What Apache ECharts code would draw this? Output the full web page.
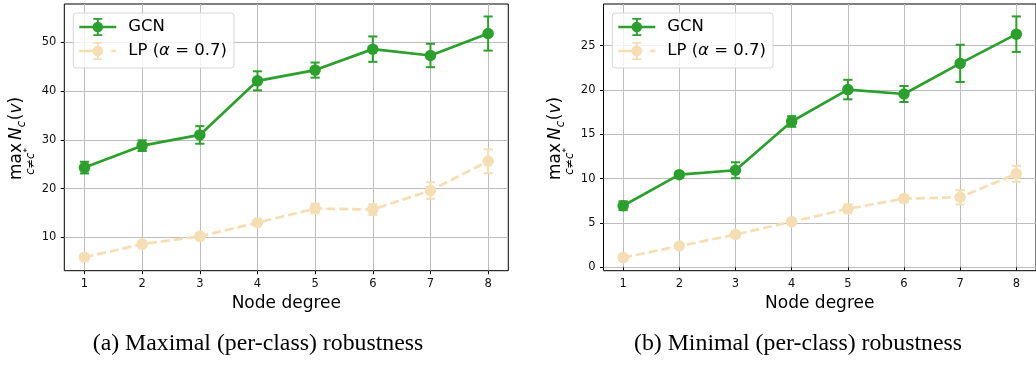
<!DOCTYPE html>
<html>
<head>
<meta charset="utf-8">
<script src="https://cdn.jsdelivr.net/npm/echarts@6/dist/echarts.min.js"></script>
<style>
  html, body { margin: 0; padding: 0; background: #fff; }
  #chart { width: 1036px; height: 366px; }
</style>
</head>
<body>
<div id="chart"></div>
<script>
// Node degrees on the x axis (shared by both panels)
const degrees = [1, 2, 3, 4, 5, 6, 7, 8];

// (a) maximal per-class robustness: mean and standard error
const gcnMaxMean = [24.3, 28.8, 31.0, 42.1, 44.3, 48.6, 47.3, 51.8];
const gcnMaxErr  = [1.2, 1.1, 1.8, 1.95, 1.55, 2.6, 2.4, 3.5];
const lpMaxMean  = [5.9, 8.6, 10.2, 13.0, 15.9, 15.7, 19.6, 25.6];
const lpMaxErr   = [0.4, 0.5, 0.5, 0.5, 1.0, 1.1, 1.7, 2.45];

// (b) minimal per-class robustness: mean and standard error
const gcnMinMean = [6.95, 10.45, 10.95, 16.45, 20.05, 19.55, 23.0, 26.3];
const gcnMinErr  = [0.5, 0.3, 0.9, 0.6, 1.1, 0.9, 2.1, 2.0];
const lpMinMean  = [1.1, 2.4, 3.7, 5.15, 6.6, 7.75, 7.9, 10.55];
const lpMinErr   = [0.3, 0.3, 0.3, 0.3, 0.5, 0.4, 0.8, 0.9];

// Tick labels
const maxTicks = [10, 20, 30, 40, 50];
const minTicks = [0, 5, 10, 15, 20, 25];

const captions = ['(a) Maximal (per-class) robustness', '(b) Minimal (per-class) robustness'];
const xName = 'Node degree';

const GREEN = '#2ca02c';
const WHEAT = '#f5deb3';
const TICK_FONT = 11.5;

const chart = echarts.init(document.getElementById('chart'), null, { renderer: 'canvas' });

// axis ranges padded like matplotlib's default 5% margins
const xRange = [0.65, 8.35];
const yRangeMax = [3.15, 57.86];
const yRangeMin = [-0.38, 29.7];

const grids = [
  { left: 64.3, top: 4, width: 444, height: 266.7 },
  { left: 603.5, top: 4, width: 443.3, height: 266.7 }
];

function xAxisFor(idx) {
  return {
    type: 'value', gridIndex: idx, min: xRange[0], max: xRange[1],
    name: xName, nameLocation: 'middle', nameGap: 22,
    nameTextStyle: { fontFamily: 'DejaVu Sans', fontSize: 17, color: '#000' },
    axisLine: { show: false },
    axisTick: { show: true, length: 3.5, customValues: degrees, lineStyle: { color: '#000', width: 1 } },
    axisLabel: { customValues: degrees, margin: 7, fontFamily: 'DejaVu Sans', fontSize: TICK_FONT, color: '#111' },
    splitLine: { show: true, lineStyle: { color: '#bdbdbd', width: 1 } }
  };
}
function yAxisFor(idx, range, ticks) {
  return {
    type: 'value', gridIndex: idx, min: range[0], max: range[1],
    axisLine: { show: false },
    axisTick: { show: true, length: 3.5, customValues: ticks, lineStyle: { color: '#000', width: 1 } },
    axisLabel: { customValues: ticks, margin: 8, fontFamily: 'DejaVu Sans', fontSize: TICK_FONT, color: '#111' },
    splitLine: { show: true, lineStyle: { color: '#bdbdbd', width: 1 } }
  };
}

function lineSeries(name, idx, means, color, dashed) {
  return {
    name: name, type: 'line', xAxisIndex: idx, yAxisIndex: idx,
    data: degrees.map((d, i) => [d, means[i]]),
    symbol: 'circle', symbolSize: 11.5, showSymbol: true,
    itemStyle: { color: color },
    lineStyle: { color: color, width: 2.7, type: dashed ? [9, 4] : 'solid' },
    z: 3, silent: true
  };
}
function errorSeries(name, idx, means, errs, color) {
  return {
    name: name, type: 'custom', xAxisIndex: idx, yAxisIndex: idx,
    itemStyle: { color: color },
    data: degrees.map((d, i) => [d, means[i] - errs[i], means[i] + errs[i]]),
    encode: { x: 0, y: [1, 2] },
    z: 2, silent: true,
    renderItem: function (params, api) {
      const x = api.value(0);
      const lo = api.coord([x, api.value(1)]);
      const hi = api.coord([x, api.value(2)]);
      const half = 4.6;
      const style = { stroke: color, lineWidth: 2 };
      return {
        type: 'group',
        children: [
          { type: 'line', shape: { x1: lo[0], y1: lo[1], x2: hi[0], y2: hi[1] }, style: style },
          { type: 'line', shape: { x1: lo[0] - half, y1: lo[1], x2: lo[0] + half, y2: lo[1] }, style: style },
          { type: 'line', shape: { x1: hi[0] - half, y1: hi[1], x2: hi[0] + half, y2: hi[1] }, style: style }
        ]
      };
    }
  };
}

// legend glyphs: line segment, error bar with caps and a round marker
const circlePath = 'M13.2,9A5.3,5.3 0 1 1 23.8,9A5.3,5.3 0 1 1 13.2,9Z';
const barPath = 'M17.5,0H19.5V18H17.5Z M14,0H23V1.8H14Z M14,16.2H23V18H14Z';
const gcnIcon = 'path://M0,7.75H37V10.25H0Z ' + barPath + ' ' + circlePath;
const lpIcon = 'path://M0,7.75H14V10.25H0Z M32,7.75H37V10.25H32Z ' + barPath + ' ' + circlePath;

function legendFor(left) {
  return {
    orient: 'vertical', left: left, top: 13,
    padding: [5, 7, 8, 6], itemGap: 6, itemWidth: 37, itemHeight: 18,
    backgroundColor: 'rgba(255,255,255,0.8)', borderColor: '#d6d6d6', borderWidth: 1, borderRadius: 3,
    selectedMode: false,
    data: [{ name: 'GCN', icon: gcnIcon }, { name: 'LP', icon: lpIcon }],
    formatter: function (name) {
      return name === 'LP' ? '{n|LP (}{i|α}{n| = 0.7)}' : '{n|' + name + '}';
    },
    textStyle: {
      fontFamily: 'DejaVu Sans', fontSize: 16.5, color: '#000', lineHeight: 18, padding: [0, 0, 0, 7],
      rich: {
        n: { fontFamily: 'DejaVu Sans', fontSize: 16.5, color: '#000', lineHeight: 18 },
        i: { fontFamily: 'DejaVu Sans', fontStyle: 'italic', fontSize: 16.5, color: '#000', lineHeight: 18 }
      }
    }
  };
}

// y-axis title: max over c != c* of N_c(v), set as rotated math-like text
const measureCtx = document.createElement('canvas').getContext('2d');
function textWidth(str, font) { measureCtx.font = font; return measureCtx.measureText(str).width; }

function yTitle(baseX, baseY) {
  const F = 17, S = 11.5;
  const fam = 'DejaVu Sans';
  const kids = [];
  function put(str, u, v, size, italic) {
    kids.push({
      type: 'text', x: u, y: v - size * 0.346,
      style: {
        text: str, fontFamily: fam, fontSize: size, fontStyle: italic ? 'italic' : 'normal',
        fill: '#000', align: 'left', verticalAlign: 'middle'
      }
    });
    return textWidth(str, (italic ? 'italic ' : '') + size + 'px "' + fam + '"');
  }
  let u = 0;
  const wMax = put('max', u, 0, F, false);
  u += wMax + F * 0.17;
  u += put('N', u, 0, F, true);
  u += put('c', u, F * 0.22, S, true);
  u += F * 0.05;
  u += put('(', u, 0, F, false);
  u += put('v', u, 0, F, true);
  put(')', u, 0, F, false);
  // limits below the operator
  const parts = [['c', true, S, 0], ['≠', false, S, 0], ['c', true, S, 0], ['*', false, 9, -4]];
  let total = 0;
  parts.forEach(p => { total += textWidth(p[0], (p[1] ? 'italic ' : '') + p[2] + 'px "' + fam + '"'); });
  let su = (wMax - total) / 2;
  parts.forEach(p => { su += put(p[0], su, 12.5 + p[3], p[2], p[1]); });
  return { type: 'group', x: baseX, y: baseY, rotation: Math.PI / 2, children: kids, silent: true };
}

const option = {
  animation: false,
  backgroundColor: '#fff',
  grid: grids.map(g => Object.assign({ show: true, borderColor: '#000', borderWidth: 1, backgroundColor: 'transparent' }, g)),
  xAxis: [xAxisFor(0), xAxisFor(1)],
  yAxis: [yAxisFor(0, yRangeMax, maxTicks), yAxisFor(1, yRangeMin, minTicks)],
  legend: [legendFor(73.3), legendFor(612.3)],
  series: [
    lineSeries('GCN', 0, gcnMaxMean, GREEN, false),
    lineSeries('LP', 0, lpMaxMean, WHEAT, true),
    errorSeries('GCN', 0, gcnMaxMean, gcnMaxErr, GREEN),
    errorSeries('LP', 0, lpMaxMean, lpMaxErr, WHEAT),
    lineSeries('GCN', 1, gcnMinMean, GREEN, false),
    lineSeries('LP', 1, lpMinMean, WHEAT, true),
    errorSeries('GCN', 1, gcnMinMean, gcnMinErr, GREEN),
    errorSeries('LP', 1, lpMinMean, lpMinErr, WHEAT)
  ],
  graphic: [
    yTitle(22.5, 180),
    yTitle(561.5, 180),
    {
      type: 'text', x: 258, y: 344, silent: true,
      style: { text: captions[0], fontFamily: 'Liberation Serif', fontSize: 23.8, fill: '#000', align: 'center', verticalAlign: 'middle' }
    },
    {
      type: 'text', x: 798, y: 344, silent: true,
      style: { text: captions[1], fontFamily: 'Liberation Serif', fontSize: 23.8, fill: '#000', align: 'center', verticalAlign: 'middle' }
    }
  ]
};
chart.setOption(option);
</script>
</body>
</html>
